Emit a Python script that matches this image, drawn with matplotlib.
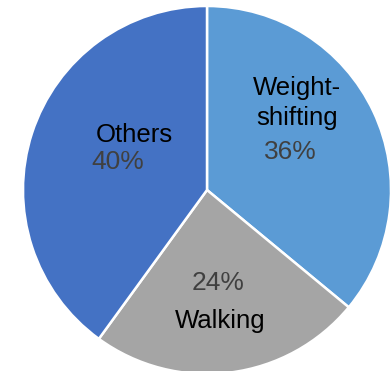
import matplotlib
matplotlib.use("Agg")
import matplotlib.pyplot as plt

categories = ["Weight-\nshifting", "Walking", "Others"]
values = [36, 24, 40]
colors = ["#5B9BD5", "#A5A5A5", "#4472C4"]
pct_labels = ["36%", "24%", "40%"]

W, H = 391, 371
cx, cy, R = 207, 190, 184

fig = plt.figure(figsize=(W / 100, H / 100), dpi=100)
ax = fig.add_axes([0, 0, 1, 1])
ax.pie(values, colors=colors, startangle=90, counterclock=False,
       radius=1.0, center=(0, 0),
       wedgeprops=dict(edgecolor="white", linewidth=1.8))
ax.set_xlim(-cx / R, (W - cx) / R)
ax.set_ylim(-(H - cy) / R, cy / R)
ax.set_aspect("equal")
ax.axis("off")

def d(px, py):
    return (px - cx) / R, (cy - py) / R

# category labels
name_pos = [(297, 103), (220, 321), (134, 135)]
pct_pos = [(290, 152), (218, 283), (118, 162)]
for name, (px, py) in zip(categories, name_pos):
    x, y = d(px, py)
    ax.text(x, y, name, ha="center", va="center", fontsize=18.5,
            family="Liberation Sans", color="black", linespacing=1.3)
for p, (px, py) in zip(pct_labels, pct_pos):
    x, y = d(px, py)
    ax.text(x, y, p, ha="center", va="center", fontsize=19,
            family="Liberation Sans", color="#404040")

fig.savefig("out.png", dpi=100)
